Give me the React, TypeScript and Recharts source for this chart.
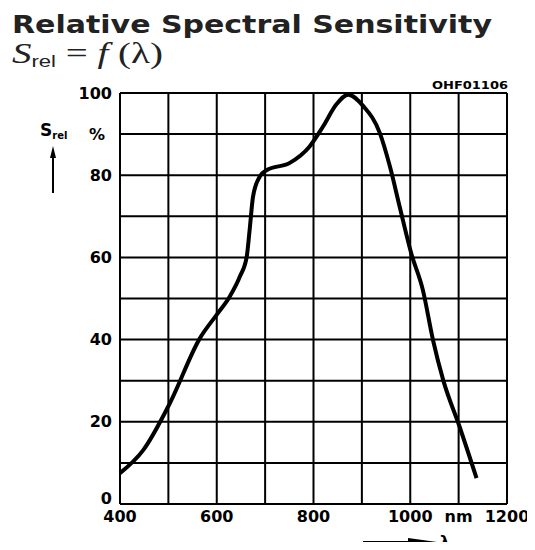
import React from 'react';
import { LineChart, Line, XAxis, YAxis, CartesianGrid } from 'recharts';

// wavelength in nm, relative sensitivity in %
const wavelength = [400, 448, 503, 565, 602, 627, 648, 662, 668, 675, 689, 703, 751, 792, 820, 847, 872, 903, 937, 958, 978, 1002, 1026, 1047, 1068, 1102, 1137];
const sensitivity = [7.5, 13.1, 24.5, 40.3, 46.4, 50.5, 55.4, 60.2, 66.7, 74.8, 79.7, 81.2, 83, 87, 91.9, 97.2, 99.6, 96.8, 90.3, 82.1, 72.4, 61, 52.1, 39.9, 30.2, 18.8, 6.3];

const xTicks = [400, 500, 600, 700, 800, 900, 1000, 1100, 1200];
const xTickLabels = ['400', '', '600', '', '800', '', '1000', 'nm', '1200'];
const yTicks = [0, 10, 20, 30, 40, 50, 60, 70, 80, 90, 100];
const yTickLabels = ['0', '', '20', '', '40', '', '60', '', '80', '%', '100'];

const data = wavelength.map((w, i) => ({ w, s: sensitivity[i] }));

const labelFont = { fontFamily: 'DejaVu Sans', fontWeight: 700, fontSize: 16, fill: '#000' };

const XTick = (props: any) => {
  const { x, y, payload } = props;
  const i = xTicks.indexOf(payload.value);
  return (
    <text x={x} y={y + 12} textAnchor="middle" dominantBaseline="central" {...labelFont}>
      {xTickLabels[i]}
    </text>
  );
};

const YTick = (props: any) => {
  const { x, y, payload } = props;
  const i = yTicks.indexOf(payload.value);
  const label = yTickLabels[i];
  // "0" sits a little above the bottom edge so it clears the x labels
  const dy = payload.value === 0 ? -6 : 0;
  return (
    <text x={label === '%' ? x - 15 : x - 8} y={y + dy} textAnchor="end" dominantBaseline="central" {...labelFont}>
      {label}
    </text>
  );
};

const App = () => {
  return (
    <div style={{ position: 'relative', width: 535, height: 550, margin: -8, background: '#fff' }}>
      <LineChart width={535} height={550} data={data} margin={{ top: 93, right: 28, bottom: 0, left: 0 }}>
        <CartesianGrid stroke="#000" strokeWidth={2} />
        <XAxis
          dataKey="w"
          type="number"
          domain={[400, 1200]}
          ticks={xTicks}
          height={46}
          axisLine={false}
          tickLine={false}
          tickSize={0}
          tickMargin={0}
          tick={<XTick />}
          interval={0}
        />
        <YAxis
          type="number"
          domain={[0, 100]}
          ticks={yTicks}
          width={120}
          axisLine={false}
          tickLine={false}
          tickSize={0}
          tickMargin={0}
          tick={<YTick />}
          interval={0}
        />
        <Line type="monotone" dataKey="s" stroke="#000" strokeWidth={4} dot={false} isAnimationActive={false} />
      </LineChart>
      <svg width={535} height={550} style={{ position: 'absolute', left: 0, top: 0, pointerEvents: 'none' }}>
        <text x={12} y={33} textLength={480} lengthAdjust="spacingAndGlyphs" fontFamily="DejaVu Sans" fontWeight={700} fontSize={25} fill="#222">
          Relative Spectral Sensitivity
        </text>
        <text x={12} y={63} textLength={151} lengthAdjust="spacingAndGlyphs" fontFamily="Liberation Serif" fontSize={30} fill="#222">
          <tspan fontStyle="italic">S</tspan>
          <tspan fontFamily="Liberation Sans" fontSize={17} dy={4}>rel</tspan>
          <tspan dy={-4}> = </tspan>
          <tspan fontStyle="italic">f</tspan>
          <tspan> (λ)</tspan>
        </text>
        <text x={432} y={89} textLength={76} lengthAdjust="spacingAndGlyphs" fontFamily="DejaVu Sans" fontWeight={700} fontSize={11} fill="#000">
          OHF01106
        </text>
        <text x={40} y={136} fontFamily="DejaVu Sans" fontWeight={700} fontSize={17} fill="#000">
          <tspan>S</tspan>
          <tspan fontSize={10} dy={3}>rel</tspan>
        </text>
        <line x1={53} y1={150} x2={53} y2={193} stroke="#000" strokeWidth={2} />
        <polygon points="53,146 50,158 56,158" fill="#000" />
        <line x1={363} y1={542} x2={425} y2={542} stroke="#000" strokeWidth={2} />
        <polygon points="437,542 408,538 408,546" fill="#000" />
        <text x={440} y={547} fontFamily="DejaVu Sans" fontWeight={700} fontSize={15} fill="#000">
          λ
        </text>
      </svg>
    </div>
  );
};

export default App;
